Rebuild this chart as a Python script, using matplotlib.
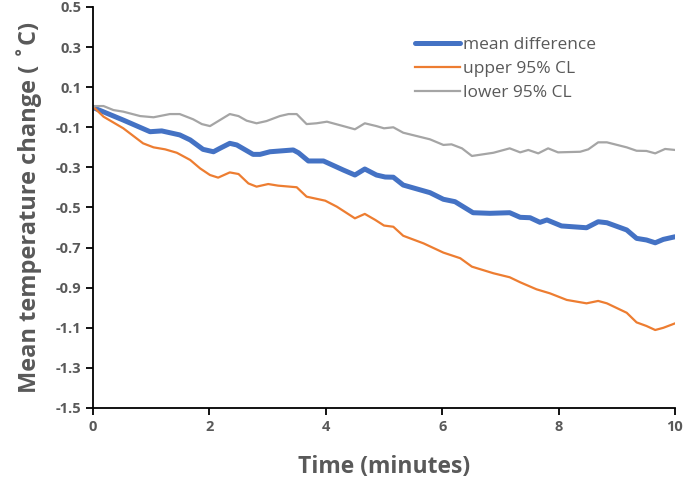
import numpy as np
import matplotlib
matplotlib.use("Agg")
import matplotlib.pyplot as plt

plt.rcParams['font.family'] = ['Open Sans', 'DejaVu Sans']

# values (time in minutes, change in deg C)
t_mean = [0, 0.03, 0.52, 0.98, 1.18, 1.49, 1.67, 1.89, 2.07, 2.18, 2.35, 2.47, 2.75, 2.87,
          3.04, 3.44, 3.53, 3.70, 3.96, 4.30, 4.50, 4.67, 4.87, 5.02, 5.16, 5.33, 5.79,
          6.02, 6.22, 6.53, 6.82, 7.16, 7.34, 7.51, 7.68, 7.80, 8.05, 8.48, 8.68, 8.83,
          9.17, 9.34, 9.51, 9.66, 9.80, 10.0]
mean_diff = [0, -0.005, -0.064, -0.122, -0.118, -0.138, -0.163, -0.21, -0.222, -0.205,
             -0.18, -0.188, -0.235, -0.235, -0.222, -0.213, -0.227, -0.268, -0.268,
             -0.313, -0.338, -0.308, -0.338, -0.348, -0.349, -0.388, -0.426, -0.459,
             -0.471, -0.526, -0.529, -0.526, -0.549, -0.551, -0.574, -0.562, -0.592,
             -0.601, -0.571, -0.576, -0.612, -0.654, -0.662, -0.676, -0.659, -0.646]

t_upper = [0, 0.03, 0.18, 0.52, 0.86, 1.04, 1.24, 1.44, 1.67, 1.84, 2.01, 2.15, 2.35,
           2.50, 2.67, 2.81, 3.01, 3.18, 3.50, 3.67, 3.99, 4.19, 4.50, 4.67, 4.85, 5.0,
           5.16, 5.33, 5.68, 6.02, 6.31, 6.51, 6.88, 7.16, 7.34, 7.62, 7.85, 8.14, 8.48,
           8.68, 8.83, 9.17, 9.34, 9.51, 9.66, 9.80, 10.0]
upper_cl = [0, -0.005, -0.047, -0.105, -0.18, -0.2, -0.21, -0.227, -0.263, -0.305, -0.338,
            -0.351, -0.325, -0.333, -0.38, -0.396, -0.383, -0.391, -0.399, -0.446,
            -0.466, -0.496, -0.554, -0.532, -0.562, -0.59, -0.596, -0.641, -0.679,
            -0.725, -0.753, -0.795, -0.828, -0.848, -0.873, -0.908, -0.928, -0.961,
            -0.978, -0.966, -0.978, -1.025, -1.073, -1.091, -1.111, -1.1, -1.078]

t_lower = [0, 0.03, 0.18, 0.35, 0.52, 0.81, 1.04, 1.32, 1.49, 1.72, 1.87, 2.01, 2.18,
           2.35, 2.50, 2.64, 2.81, 2.98, 3.21, 3.36, 3.50, 3.67, 3.84, 4.02, 4.30, 4.50,
           4.67, 4.87, 5.0, 5.16, 5.33, 5.79, 6.02, 6.16, 6.34, 6.51, 6.88, 7.16, 7.34,
           7.48, 7.65, 7.82, 7.99, 8.37, 8.51, 8.68, 8.83, 9.17, 9.34, 9.51, 9.66, 9.83,
           10.0]
lower_cl = [0, 0.006, 0.006, -0.014, -0.022, -0.044, -0.05, -0.034, -0.034, -0.06, -0.084,
            -0.094, -0.064, -0.034, -0.044, -0.067, -0.08, -0.069, -0.044, -0.034,
            -0.034, -0.084, -0.08, -0.072, -0.094, -0.11, -0.08, -0.094, -0.105, -0.1,
            -0.127, -0.16, -0.188, -0.185, -0.205, -0.243, -0.227, -0.205, -0.225,
            -0.213, -0.23, -0.205, -0.225, -0.222, -0.21, -0.175, -0.175, -0.2, -0.217,
            -0.218, -0.23, -0.208, -0.213]

x_ticks = [0, 2, 4, 6, 8, 10]
y_ticks = np.arange(-1.5, 0.51, 0.2)

grey_txt = '#595959'

fig = plt.figure(figsize=(6.85, 4.86), dpi=100)
ax = fig.add_axes([0.1358, 0.1605, 0.8496, 0.8251])

ax.plot(t_mean, mean_diff, color='#4472C4', lw=3.6, label='mean difference', solid_capstyle='round')
ax.plot(t_upper, upper_cl, color='#ED7D31', lw=1.6, label='upper 95% CL')
ax.plot(t_lower, lower_cl, color='#A5A5A5', lw=1.6, label='lower 95% CL')

ax.set_xlim(0, 10)
ax.set_ylim(-1.5, 0.5)
ax.set_xticks(x_ticks)
ax.set_yticks(y_ticks)
ax.set_yticklabels([f'{v:.1f}' for v in y_ticks])

for s in ['top', 'right']:
    ax.spines[s].set_visible(False)
for s in ['left', 'bottom']:
    ax.spines[s].set_linewidth(1.3)
    ax.spines[s].set_color('black')

ax.tick_params(direction='out', length=5, width=1.3, colors='black',
               labelcolor=grey_txt, labelsize=10.5)
for lab in ax.get_xticklabels() + ax.get_yticklabels():
    lab.set_fontweight('bold')

ax.set_xlabel('Time (minutes)', fontsize=16.5, fontweight='bold', color=grey_txt, labelpad=15)
ax.set_ylabel('Mean temperature change ( ˚C)', fontsize=17, fontweight='bold',
              color=grey_txt, labelpad=10)

leg = ax.legend(loc='upper left', bbox_to_anchor=(0.553, 0.925), frameon=False,
                borderpad=0, borderaxespad=0,
                fontsize=12.5, handlelength=2.6, handletextpad=0.15, labelspacing=0.44)
for txt in leg.get_texts():
    txt.set_color(grey_txt)

fig.savefig('out.png', dpi=100)
